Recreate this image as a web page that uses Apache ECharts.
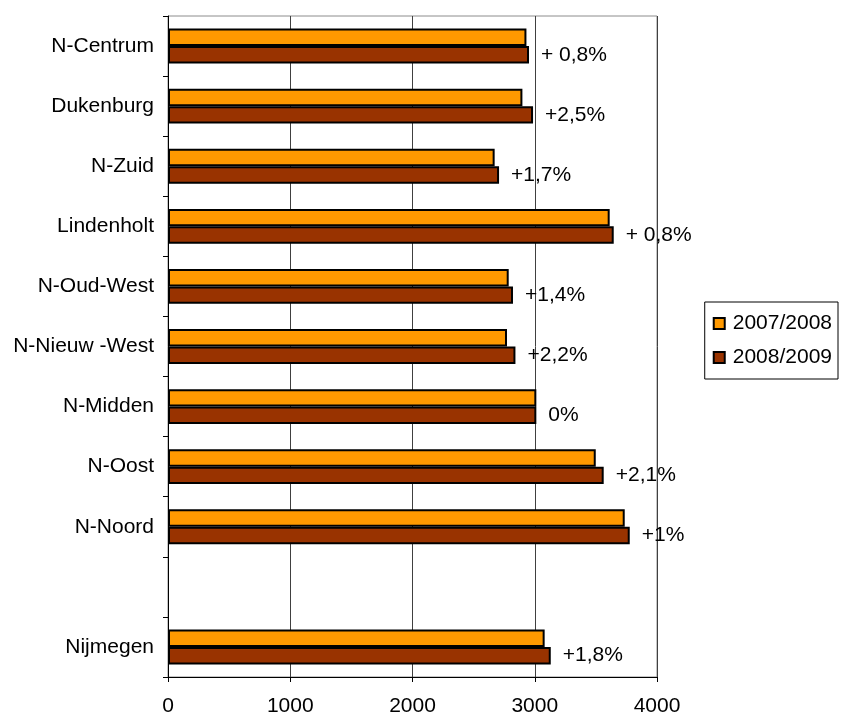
<!DOCTYPE html>
<html>
<head>
<meta charset="utf-8">
<script src="https://cdn.jsdelivr.net/npm/echarts@6/dist/echarts.min.js"></script>
<style>
html,body{margin:0;padding:0;background:#fff;}
#chart{width:841px;height:715px;}
</style>
</head>
<body>
<div id="chart"></div>
<script>
var categories = ['N-Centrum','Dukenburg','N-Zuid','Lindenholt','N-Oud-West','N-Nieuw -West','N-Midden','N-Oost','N-Noord','','Nijmegen'];
var series2007 = [2932, 2899, 2672, 3613, 2787, 2773, 3013, 3499, 3736, null, 3081];
var series2008 = [2953, 2986, 2708, 3646, 2822, 2842, 3013, 3564, 3777, null, 3131];
var changeLabels = ['+ 0,8%', '+2,5%', '+1,7%', '+ 0,8%', '+1,4%', '+2,2%', '0%', '+2,1%', '+1%', '', '+1,8%'];
var xTicks = [0, 1000, 2000, 3000, 4000];

var FONT = '"Liberation Sans", Arial, sans-serif';
var chart = echarts.init(document.getElementById('chart'), null, {renderer: 'canvas'});
chart.setOption({
  animation: false,
  backgroundColor: '#ffffff',
  textStyle: {fontFamily: FONT},
  grid: {left: 168, right: 184, top: 16, bottom: 38, show: true, borderColor: '#8c8c8c', borderWidth: 1, backgroundColor: 'transparent', containLabel: false, outerBoundsMode: 'none'},
  legend: {
    orient: 'vertical',
    right: 3,
    top: 302,
    padding: [11, 6, 11, 8],
    borderColor: '#000',
    borderWidth: 1,
    itemWidth: 11,
    itemHeight: 11,
    itemGap: 13,
    icon: 'rect',
    textStyle: {fontFamily: FONT, fontSize: 21, color: '#000', padding: [0, 0, 0, 3]},
    data: ['2007/2008', '2008/2009']
  },
  xAxis: {
    type: 'value',
    min: xTicks[0],
    max: xTicks[xTicks.length - 1],
    interval: 1000,
    axisLine: {show: true, lineStyle: {color: '#000', width: 1}},
    axisTick: {show: true, length: 5, lineStyle: {color: '#000'}},
    axisLabel: {fontFamily: FONT, fontSize: 21, color: '#000', margin: 19, formatter: function (v) { return String(v); }},
    splitLine: {show: true, lineStyle: {color: '#404040', width: 1}}
  },
  yAxis: {
    type: 'category',
    data: categories,
    inverse: true,
    axisLine: {show: true, lineStyle: {color: '#000', width: 1}},
    axisTick: {show: true, length: 5, lineStyle: {color: '#000'}},
    axisLabel: {fontFamily: FONT, fontSize: 21, color: '#000', margin: 14, padding: [0, 0, 3, 0]},
    splitLine: {show: false}
  },
  series: [
    {
      name: '2007/2008',
      type: 'bar',
      data: series2007,
      barGap: '0%',
      barCategoryGap: '42%',
      itemStyle: {color: '#FF9900', borderColor: '#000', borderWidth: 2}
    },
    {
      name: '2008/2009',
      type: 'bar',
      data: series2008,
      itemStyle: {color: '#993300', borderColor: '#000', borderWidth: 2},
      label: {
        show: true,
        position: 'right',
        distance: 12,
        fontFamily: FONT,
        fontSize: 21,
        color: '#000',
        formatter: function (p) { return changeLabels[p.dataIndex]; }
      }
    }
  ]
});
</script>
</body>
</html>
